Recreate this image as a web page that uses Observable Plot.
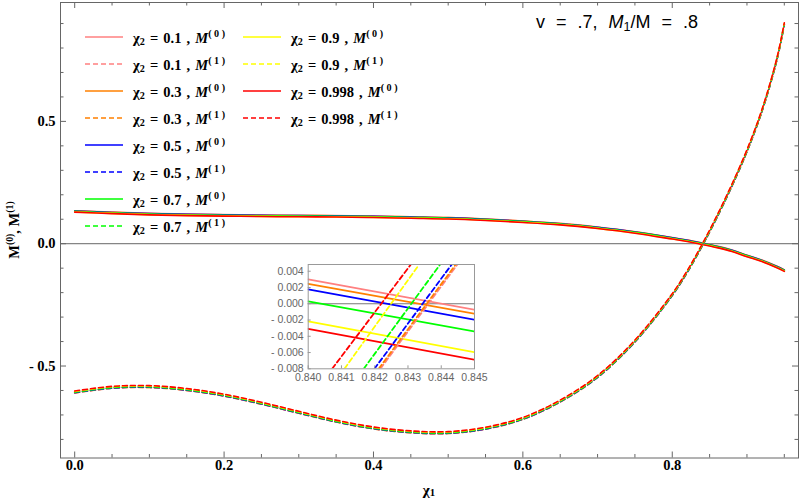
<!DOCTYPE html>
<html><head><meta charset="utf-8">
<script src="https://cdn.jsdelivr.net/npm/d3@7"></script>
<script src="https://cdn.jsdelivr.net/npm/@observablehq/plot@0.6"></script>
<style>
body{margin:0;background:#fff;}
#wrap{position:relative;width:800px;height:500px;overflow:hidden;}
#wrap svg{display:block;}
.legrow{position:absolute;height:18px;display:flex;align-items:center;white-space:pre;font:bold 14.5px "Liberation Serif",serif;color:#000;word-spacing:1.5px;}
.legrow sub{font-size:70%;vertical-align:-2px;}
.legrow sup{font-size:70%;vertical-align:6px;word-spacing:0;}
#title{position:absolute;right:102px;top:12px;font:18px "Liberation Sans",Arial,sans-serif;white-space:pre;color:#000;word-spacing:6px;}
#title sub{font-size:70%;vertical-align:-3px;}
#ytitle{position:absolute;left:13px;top:230px;transform:translate(-50%,-50%) rotate(-90deg);font:bold 14.5px "Liberation Serif",serif;white-space:pre;}
#ytitle sup{font-size:68%;vertical-align:6px;}
#xtitle{position:absolute;left:429px;top:490px;transform:translate(-50%,-50%);font:bold 15px "Liberation Serif",serif;white-space:pre;}
#xtitle sub{font-size:72%;vertical-align:-1px;}
</style></head><body><div id="wrap"></div>
<script>
// ---- data ----
const chi1 = [0, 0.05, 0.1, 0.15, 0.2, 0.25, 0.3, 0.35, 0.4, 0.45, 0.5, 0.55, 0.6, 0.65, 0.7, 0.75, 0.8, 0.82, 0.84, 0.86, 0.88, 0.9, 0.92, 0.94, 0.95];
const chi2Labels = ["0.1", "0.3", "0.5", "0.7", "0.9", "0.998"];
const seriesColors = ["#ff8080", "#ff8000", "#0000ff", "#00ff00", "#ffff00", "#ff0000"];

// M^(0) per chi2
const m0_01 = [0.135, 0.129, 0.124, 0.121, 0.119, 0.117, 0.116, 0.115, 0.113, 0.110, 0.107, 0.101, 0.093, 0.083, 0.068, 0.049, 0.025, 0.015, 0.003, -0.010, -0.026, -0.047, -0.067, -0.092, -0.107];
const m0_03 = [0.1345, 0.1285, 0.1235, 0.1205, 0.1185, 0.1165, 0.1155, 0.1145, 0.1125, 0.1095, 0.1065, 0.1005, 0.0925, 0.0825, 0.0675, 0.0485, 0.0245, 0.0145, 0.0025, -0.0105, -0.0265, -0.0475, -0.0675, -0.0925, -0.1075];
const m0_05 = [0.1338, 0.1278, 0.1228, 0.1198, 0.1178, 0.1158, 0.1148, 0.1138, 0.1118, 0.1088, 0.1058, 0.0998, 0.0918, 0.0818, 0.0668, 0.0478, 0.0238, 0.0138, 0.0018, -0.0112, -0.0272, -0.0482, -0.0682, -0.0932, -0.1082];
const m0_07 = [0.1323, 0.1263, 0.1213, 0.1183, 0.1163, 0.1143, 0.1133, 0.1123, 0.1103, 0.1073, 0.1043, 0.0983, 0.0903, 0.0803, 0.0653, 0.0463, 0.0223, 0.0123, 0.0003, -0.0127, -0.0287, -0.0497, -0.0697, -0.0947, -0.1097];
const m0_09 = [0.1298, 0.1238, 0.1188, 0.1158, 0.1138, 0.1118, 0.1108, 0.1098, 0.1078, 0.1048, 0.1018, 0.0958, 0.0878, 0.0778, 0.0628, 0.0438, 0.0198, 0.0098, -0.0022, -0.0152, -0.0312, -0.0522, -0.0722, -0.0972, -0.1122];
const m0_0998 = [0.1289, 0.1229, 0.1179, 0.1149, 0.1129, 0.1109, 0.1099, 0.1089, 0.1069, 0.1039, 0.1009, 0.0949, 0.0869, 0.0769, 0.0619, 0.0429, 0.0189, 0.0089, -0.0031, -0.0161, -0.0321, -0.0531, -0.0731, -0.0981, -0.1131];

// M^(1) per chi2
const m1_01 = [-0.610, -0.591, -0.588, -0.600, -0.623, -0.656, -0.693, -0.729, -0.757, -0.773, -0.776, -0.758, -0.718, -0.647, -0.547, -0.402, -0.212, -0.118, -0.010, 0.108, 0.236, 0.376, 0.540, 0.750, 0.895];
const m1_03 = [-0.6097, -0.5907, -0.5877, -0.5997, -0.6227, -0.6557, -0.6927, -0.7287, -0.7567, -0.7727, -0.7757, -0.7577, -0.7177, -0.6467, -0.5467, -0.4017, -0.2117, -0.1177, -0.0097, 0.1083, 0.2363, 0.3763, 0.5403, 0.7503, 0.8953];
const m1_05 = [-0.609, -0.590, -0.587, -0.599, -0.622, -0.655, -0.692, -0.728, -0.756, -0.772, -0.775, -0.757, -0.717, -0.646, -0.546, -0.401, -0.211, -0.117, -0.009, 0.109, 0.237, 0.377, 0.541, 0.751, 0.896];
const m1_07 = [-0.6072, -0.5882, -0.5852, -0.5972, -0.6202, -0.6532, -0.6902, -0.7262, -0.7542, -0.7702, -0.7732, -0.7552, -0.7152, -0.6442, -0.5442, -0.3992, -0.2092, -0.1152, -0.0072, 0.1108, 0.2388, 0.3788, 0.5428, 0.7528, 0.8978];
const m1_09 = [-0.6038, -0.5848, -0.5818, -0.5938, -0.6168, -0.6498, -0.6868, -0.7228, -0.7508, -0.7668, -0.7698, -0.7518, -0.7118, -0.6408, -0.5408, -0.3958, -0.2058, -0.1118, -0.0038, 0.1142, 0.2422, 0.3822, 0.5462, 0.7562, 0.9012];
const m1_0998 = [-0.6022, -0.5832, -0.5802, -0.5922, -0.6152, -0.6482, -0.6852, -0.7212, -0.7492, -0.7652, -0.7682, -0.7502, -0.7102, -0.6392, -0.5392, -0.3942, -0.2042, -0.1102, -0.0022, 0.1158, 0.2438, 0.3838, 0.5478, 0.7578, 0.9028];

// inset (zoom near the crossing)
const insetChi = [0.840, 0.845];
const insetM0_01 = [0.0030, -0.00074];
const insetM0_03 = [0.00246, -0.00123];
const insetM0_05 = [0.00176, -0.00197];
const insetM0_07 = [0.00028, -0.0034];
const insetM0_09 = [-0.00218, -0.00595];
const insetM0_0998 = [-0.00308, -0.00689];
const insetM1Levels = [-0.008, 0.0048];
const insetM1Chi_01 = [0.84217, 0.84448];
const insetM1Chi_03 = [0.84212, 0.84443];
const insetM1Chi_05 = [0.84199, 0.84431];
const insetM1Chi_07 = [0.84167, 0.84396];
const insetM1Chi_09 = [0.84109, 0.84333];
const insetM1Chi_0998 = [0.84072, 0.84308];

// ticks
const xMajor = [0, 0.2, 0.4, 0.6, 0.8];
const xMajorLabels = ["0.0", "0.2", "0.4", "0.6", "0.8"];
const xMinor = [0.05, 0.1, 0.15, 0.25, 0.3, 0.35, 0.45, 0.5, 0.55, 0.65, 0.7, 0.75, 0.85, 0.9, 0.95];
const yMajor = [-0.5, 0, 0.5];
const yMajorLabels = ["- 0.5", "0.0", "0.5"];
const yMinor = [-0.8, -0.7, -0.6, -0.4, -0.3, -0.2, -0.1, 0.1, 0.2, 0.3, 0.4, 0.6, 0.7, 0.8, 0.9];
const insetXTicks = [0.840, 0.841, 0.842, 0.843, 0.844, 0.845];
const insetXLabels = ["0.840", "0.841", "0.842", "0.843", "0.844", "0.845"];
const insetYTicks = [-0.008, -0.006, -0.004, -0.002, 0, 0.002, 0.004];
const insetYLabels = ["- 0.008", "- 0.006", "- 0.004", "- 0.002", "0.000", "0.002", "0.004"];

const M0 = [m0_01, m0_03, m0_05, m0_07, m0_09, m0_0998];
const M1 = [m1_01, m1_03, m1_05, m1_07, m1_09, m1_0998];
const IM0 = [insetM0_01, insetM0_03, insetM0_05, insetM0_07, insetM0_09, insetM0_0998];
const IM1 = [insetM1Chi_01, insetM1Chi_03, insetM1Chi_05, insetM1Chi_07, insetM1Chi_09, insetM1Chi_0998];

// ---- main plot ----
const W = 800, H = 500;
const mL = 60, mR = 2, mT = 2, mB = 42.5;
const iW = W - mL - mR, iH = H - mT - mB;
const frameColor = "#666";
const serif = "Liberation Serif";

const marks = [
  Plot.ruleY([0], {stroke: frameColor, strokeWidth: 1}),
];
M0.forEach((arr, i) => marks.push(Plot.line(chi1, {x: d => d, y: (d, j) => arr[j], stroke: seriesColors[i], strokeWidth: 1.6, curve: "catmull-rom"})));
M1.forEach((arr, i) => marks.push(Plot.line(chi1, {x: d => d, y: (d, j) => arr[j], stroke: seriesColors[i], strokeWidth: 1.6, strokeDasharray: "5,3", curve: "catmull-rom"})));
marks.push(
  Plot.frame({stroke: frameColor, strokeWidth: 1}),
  Plot.tickX(xMajor, {x: d => d, insetTop: iH - 6, stroke: frameColor}),
  Plot.tickX(xMajor, {x: d => d, insetBottom: iH - 6, stroke: frameColor}),
  Plot.tickX(xMinor, {x: d => d, insetTop: iH - 3.5, stroke: frameColor}),
  Plot.tickX(xMinor, {x: d => d, insetBottom: iH - 3.5, stroke: frameColor}),
  Plot.tickY(yMajor, {y: d => d, insetRight: iW - 6, stroke: frameColor}),
  Plot.tickY(yMajor, {y: d => d, insetLeft: iW - 6, stroke: frameColor}),
  Plot.tickY(yMinor, {y: d => d, insetRight: iW - 3.5, stroke: frameColor}),
  Plot.tickY(yMinor, {y: d => d, insetLeft: iW - 3.5, stroke: frameColor}),
  Plot.text(xMajor, {x: d => d, text: (d, i) => xMajorLabels[i], frameAnchor: "bottom", dy: 11.5, fontFamily: serif, fontWeight: "bold", fontSize: 14.5, fill: "#000"}),
  Plot.text(yMajor, {y: d => d, text: (d, i) => yMajorLabels[i], frameAnchor: "left", textAnchor: "end", dx: -5, fontFamily: serif, fontWeight: "bold", fontSize: 14.5, fill: "#000"})
);

const main = Plot.plot({
  width: W, height: H,
  marginLeft: mL, marginRight: mR, marginTop: mT, marginBottom: mB,
  x: {domain: [-0.019, 0.969], axis: null},
  y: {domain: [-0.876, 0.986], axis: null},
  style: {background: "#fff", overflow: "visible"},
  marks
});
const wrap = document.getElementById("wrap");
wrap.appendChild(main);

// ---- inset plot ----
const iml = 42.7, imr = 10, imt = 8, imb = 22;
const ipw = 166.3, iph = 104.3;
const insetMarks = [Plot.ruleY([0], {stroke: "#777", strokeWidth: 1.2})];
IM0.forEach((arr, i) => insetMarks.push(Plot.line(insetChi, {x: d => d, y: (d, j) => arr[j], stroke: seriesColors[i], strokeWidth: 1.8, clip: true})));
IM1.forEach((arr, i) => insetMarks.push(Plot.line(arr, {x: d => d, y: (d, j) => insetM1Levels[j], stroke: seriesColors[i], strokeWidth: 1.8, strokeDasharray: "5,3", clip: true})));
insetMarks.push(
  Plot.frame({stroke: "#999", strokeWidth: 1}),
  Plot.tickX(insetXTicks, {x: d => d, insetTop: iph - 3, stroke: "#999"}),
  Plot.tickY(insetYTicks, {y: d => d, insetRight: ipw - 3, stroke: "#999"}),
  Plot.text(insetXTicks, {x: d => d, text: (d, i) => insetXLabels[i], frameAnchor: "bottom", dy: 12.5, fontFamily: "Liberation Sans", fontSize: 10.5, fill: "#666"}),
  Plot.text(insetYTicks, {y: d => d, text: (d, i) => insetYLabels[i], frameAnchor: "left", textAnchor: "end", dx: -4.5, fontFamily: "Liberation Sans", fontSize: 10.5, fill: "#666"})
);
const inset = Plot.plot({
  width: iml + ipw + imr, height: imt + iph + imb,
  marginLeft: iml, marginRight: imr, marginTop: imt, marginBottom: imb,
  x: {domain: [0.840, 0.845], axis: null},
  y: {domain: [-0.008, 0.00483], axis: null},
  style: {background: "transparent", overflow: "visible"},
  marks: insetMarks
});
inset.style.position = "absolute";
inset.style.left = (307.7 - iml) + "px";
inset.style.top = (264 - imt) + "px";
wrap.appendChild(inset);

// ---- legend ----
const legendEntries = [];
chi2Labels.forEach((c, i) => {
  legendEntries.push({chi2: c, order: 0, color: seriesColors[i]});
  legendEntries.push({chi2: c, order: 1, color: seriesColors[i]});
});
legendEntries.forEach((e, k) => {
  const col = k < 8 ? 0 : 1;
  const row = k < 8 ? k : k - 8;
  const yC = 37 + row * 27;
  const x0 = col === 0 ? 85 : 243;
  const div = document.createElement("div");
  div.className = "legrow";
  div.style.left = x0 + "px";
  div.style.top = (yC - 9) + "px";
  const dash = e.order === 1 ? ' stroke-dasharray="5,3"' : '';
  div.innerHTML = `<svg width="38" height="18" style="overflow:visible"><line x1="0" x2="38" y1="9" y2="9" stroke="${e.color}" stroke-width="1.6"${dash}/></svg>` +
    `<span style="margin-left:10px">χ<sub>2</sub> = ${e.chi2} , <i>M</i><sup>( ${e.order} )</sup></span>`;
  wrap.appendChild(div);
});

// ---- titles ----
const t = document.createElement("div");
t.id = "title";
t.innerHTML = "v = .7, <i>M</i><sub>1</sub>/M = .8";
wrap.appendChild(t);
const yt = document.createElement("div");
yt.id = "ytitle";
yt.innerHTML = "M<sup>(0)</sup>, M<sup>(1)</sup>";
wrap.appendChild(yt);
const xt = document.createElement("div");
xt.id = "xtitle";
xt.innerHTML = "χ<sub>1</sub>";
wrap.appendChild(xt);
</script></body></html>
